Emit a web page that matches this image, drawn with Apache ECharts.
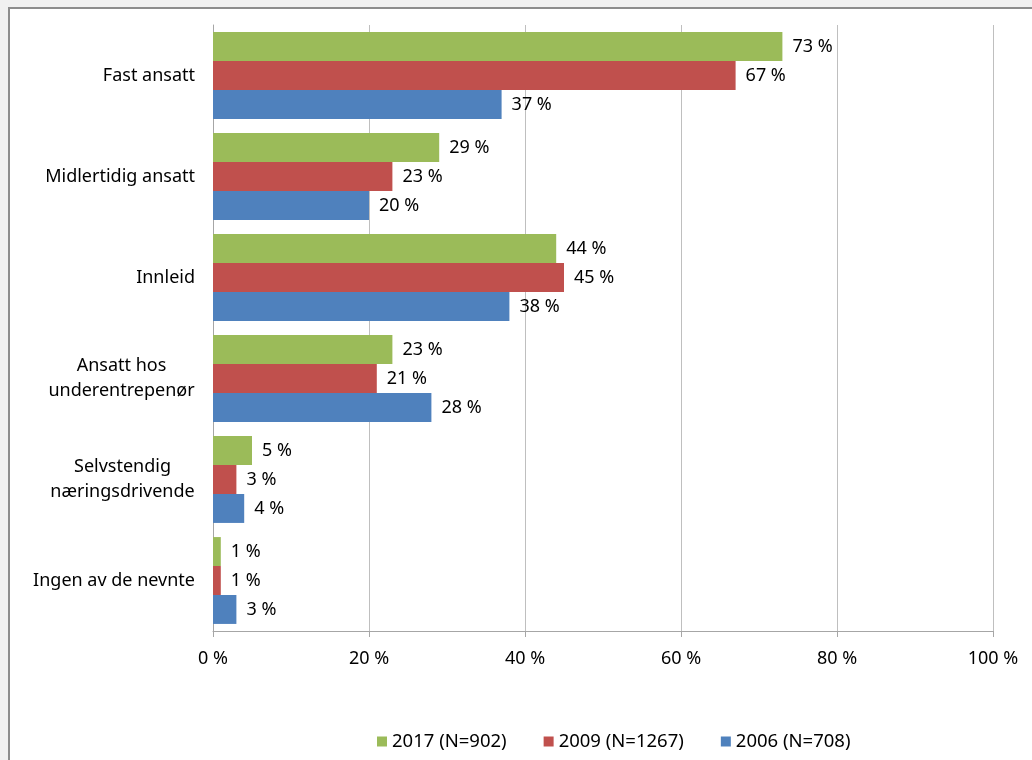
<!DOCTYPE html>
<html>
<head>
<meta charset="utf-8">
<script src="https://cdn.jsdelivr.net/npm/echarts@6/dist/echarts.min.js"></script>
<style>
  html, body { margin: 0; padding: 0; background: #f0f0f0; }
  #chart { width: 1032px; height: 760px; }
</style>
</head>
<body>
<div id="chart"></div>
<script>
const categories = ['Fast ansatt', 'Midlertidig ansatt', 'Innleid', 'Ansatt hos\nunderentrepenør', 'Selvstendig\nnæringsdrivende', 'Ingen av de nevnte'];
const seriesNames = ['2017 (N=902)', '2009 (N=1267)', '2006 (N=708)'];
const values2017 = [73, 29, 44, 23, 5, 1];
const values2009 = [67, 23, 45, 21, 3, 1];
const values2006 = [37, 20, 38, 28, 4, 3];
const colors = ['#9BBB59', '#C0504D', '#4F81BD'];

const FONT = '"Noto Sans", "Open Sans", sans-serif';
const FS = 18;

// measure text for centered multi-line category labels
const cv = document.createElement('canvas').getContext('2d');
cv.font = FS + 'px ' + FONT;
const rich = {};
categories.forEach((c, i) => {
  const lines = c.split('\n');
  const w = Math.max(...lines.map(l => cv.measureText(l).width));
  rich['c' + i] = { width: Math.ceil(w), align: 'center', fontSize: FS, fontFamily: FONT, color: '#000', lineHeight: 25 };
});

const chart = echarts.init(document.getElementById('chart'));
const seriesData = [values2017, values2009, values2006];

chart.setOption({
  backgroundColor: '#f0f0f0',
  animation: false,
  textStyle: { fontFamily: FONT },
  graphic: [{
    type: 'rect', z: -10, silent: true,
    shape: { x: 9, y: 8, width: 1100, height: 800 },
    style: { fill: '#ffffff', stroke: '#8c8c8c', lineWidth: 2 }
  }],
  grid: { left: 213, right: 39, top: 25, bottom: 129, containLabel: false },
  legend: {
    data: seriesNames,
    top: 727,
    left: 372,
    itemWidth: 10, itemHeight: 10, itemGap: 37,
    icon: 'rect',
    textStyle: { fontSize: 18.5, fontFamily: FONT, color: '#000' }
  },
  xAxis: {
    type: 'value', min: 0, max: 100, interval: 20,
    axisLine: { show: true, lineStyle: { color: '#a6a6a6', width: 1 } },
    axisTick: { show: true, length: 6, lineStyle: { color: '#a6a6a6' } },
    axisLabel: { formatter: '{value} %', fontSize: FS, fontFamily: FONT, color: '#000', margin: 19 },
    splitLine: { show: true, lineStyle: { color: '#bfbfbf', width: 1 } }
  },
  yAxis: {
    type: 'category', inverse: true, data: categories,
    axisLine: { show: true, lineStyle: { color: '#a6a6a6', width: 1 } },
    axisTick: { show: false },
    axisLabel: {
      fontSize: FS, fontFamily: FONT, color: '#000', margin: 18, lineHeight: 25,
      formatter: (v, i) => {
        const lines = v.split('\n');
        if (lines.length === 1) return v;
        return lines.map(l => '{c' + i + '|' + l + '}').join('\n');
      },
      rich: rich
    }
  },
  series: seriesNames.map((name, k) => ({
    name: name,
    type: 'bar',
    data: seriesData[k],
    barGap: '0%',
    barCategoryGap: '14%',
    itemStyle: { color: colors[k] },
    label: {
      show: true, position: 'right', distance: 10,
      formatter: '{c} %', fontSize: FS, fontFamily: FONT, color: '#000'
    }
  }))
});
</script>
</body>
</html>
